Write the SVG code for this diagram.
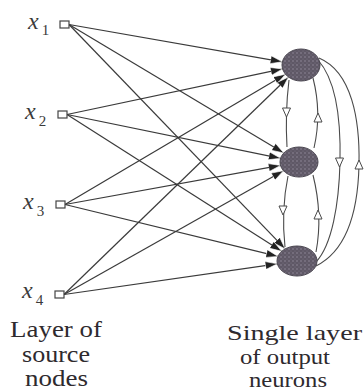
<svg xmlns="http://www.w3.org/2000/svg" width="364" height="392" viewBox="0 0 364 392">
<style>
.lbl{font-family:"Liberation Serif","DejaVu Serif",serif;fill:#2e2a2e}
.var{font-family:"Liberation Serif","DejaVu Serif",serif;font-style:italic;font-size:24px;fill:#3a3a3a}
.sub{font-style:normal;font-size:15px}
.src{fill:#fff;stroke:#444;stroke-width:1.2}
.syn{fill:none;stroke:#3a3a3a;stroke-width:1.2}
.fb{fill:none;stroke:#4a4a4a;stroke-width:1.1}
.tri{fill:#fff;stroke:#4a4a4a;stroke-width:1}
.neuron{fill:url(#dots);stroke:#4a4650;stroke-width:1}
</style>
<defs>
<marker id="ah" markerUnits="userSpaceOnUse" markerWidth="12" markerHeight="8" refX="12" refY="4" orient="auto">
<path d="M0,0 L12,4 L0,8 z" fill="#222" stroke="#fff" stroke-width="0.6"/>
</marker>
<pattern id="dots" patternUnits="userSpaceOnUse" width="4" height="4">
<rect width="4" height="4" fill="#5f5866"/>
<circle cx="1" cy="1" r="0.8" fill="#8e8898"/>
<circle cx="3" cy="3" r="0.6" fill="#7a7484"/>
</pattern>
</defs>
<rect width="364" height="392" fill="#fff"/>

<g id="connectors">
<line class="syn" x1="69" y1="24.5" x2="282.4" y2="61.8" marker-end="url(#ah)"/>
<line class="syn" x1="67" y1="114.5" x2="282.6" y2="68.9" marker-end="url(#ah)"/>
<line class="syn" x1="65" y1="204.5" x2="285.5" y2="74.2" marker-end="url(#ah)"/>
<line class="syn" x1="64" y1="294.5" x2="288.5" y2="77" marker-end="url(#ah)"/>

<line class="syn" x1="69" y1="24.5" x2="283.8" y2="153" marker-end="url(#ah)"/>
<line class="syn" x1="67" y1="114.5" x2="280.6" y2="158.3" marker-end="url(#ah)"/>
<line class="syn" x1="65" y1="204.5" x2="280.5" y2="165.4" marker-end="url(#ah)"/>
<line class="syn" x1="64" y1="294.5" x2="283.5" y2="170.7" marker-end="url(#ah)"/>

<line class="syn" x1="69" y1="24.5" x2="285.2" y2="248.9" marker-end="url(#ah)"/>
<line class="syn" x1="67" y1="114.5" x2="281.7" y2="251.3" marker-end="url(#ah)"/>
<line class="syn" x1="65" y1="204.5" x2="278" y2="256.4" marker-end="url(#ah)"/>
<line class="syn" x1="64" y1="294.5" x2="277.3" y2="263.8" marker-end="url(#ah)"/>

<path class="fb" d="M289,80 Q285,113 287,147"/>
<path class="fb" d="M313,78 Q322,113 314,148"/>
<path class="fb" d="M288,176 Q281,210 285,247"/>
<path class="fb" d="M313,175 Q323,215 316,252"/>
<path class="fb" d="M318,60 C336,80 341,120 340,162 S332,245 316,262"/>
<path class="fb" d="M319,58 C352,72 360,120 359,165 S348,250 316,266"/>

<polygon class="tri" points="282.5,108 290.5,108 286.5,117"/>
<polygon class="tri" points="314,122 322,122 318,113"/>
<polygon class="tri" points="279,206 287,206 283,215"/>
<polygon class="tri" points="314,219 322,219 318,210"/>
<polygon class="tri" points="335.5,158 343.5,158 339.5,167"/>
<polygon class="tri" points="355,169 363,169 359,160"/>
</g>

<g id="x1"><rect class="src" x="60" y="21" width="9" height="7"/><text class="var" x="28" y="29">x<tspan class="sub" dx="3" dy="6">1</tspan></text></g>
<g id="x2"><rect class="src" x="58" y="111" width="9" height="7"/><text class="var" x="25" y="119">x<tspan class="sub" dx="3" dy="7">2</tspan></text></g>
<g id="x3"><rect class="src" x="56" y="201" width="9" height="7"/><text class="var" x="23" y="209">x<tspan class="sub" dx="3" dy="7">3</tspan></text></g>
<g id="x4"><rect class="src" x="55" y="291" width="9" height="7"/><text class="var" x="22" y="298">x<tspan class="sub" dx="3" dy="7">4</tspan></text></g>

<g id="n1"><ellipse class="neuron" cx="301" cy="65" rx="19" ry="16"/></g>
<g id="n2"><ellipse class="neuron" cx="299" cy="162" rx="19" ry="15"/></g>
<g id="n3"><ellipse class="neuron" cx="297" cy="261" rx="20" ry="15"/></g>

<g id="label-source">
<text class="lbl" font-size="23" x="10" y="337" textLength="92" lengthAdjust="spacingAndGlyphs">Layer of</text>
<text class="lbl" font-size="23" x="22" y="362" textLength="68" lengthAdjust="spacingAndGlyphs">source</text>
<text class="lbl" font-size="23" x="25" y="386" textLength="63" lengthAdjust="spacingAndGlyphs">nodes</text>
</g>
<g id="label-output">
<text class="lbl" font-size="22" x="227" y="340" textLength="135" lengthAdjust="spacingAndGlyphs">Single layer</text>
<text class="lbl" font-size="22" x="240" y="364" textLength="90" lengthAdjust="spacingAndGlyphs">of output</text>
<text class="lbl" font-size="22" x="249" y="387" textLength="78" lengthAdjust="spacingAndGlyphs">neurons</text>
</g>
</svg>
